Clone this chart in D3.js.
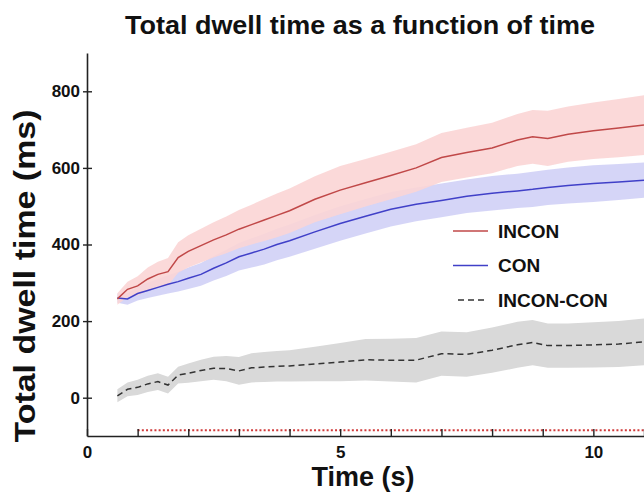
<!DOCTYPE html>
<html>
<head>
<meta charset="utf-8">
<script src="https://cdn.jsdelivr.net/npm/d3@7"></script>
<style>
  body { margin: 0; background: #fff; }
  text { font-family: "Liberation Sans", Arial, Helvetica, sans-serif; font-weight: bold; fill: #111; }
</style>
</head>
<body>
<div id="chart"></div>
<script>
    // time points (s)
    var timeS = [0.6, 0.8, 1.0, 1.2, 1.4, 1.6, 1.8, 2.0, 2.25, 2.5, 2.75, 3.0, 3.25, 3.5, 3.75, 4.0,
                 4.5, 5.0, 5.5, 6.0, 6.5, 7.0, 7.5, 8.0, 8.5, 8.8, 9.1, 9.5, 10.0, 10.5, 11.0];

    // mean total dwell time (ms) and half width of the shaded band
    var inconMean = [258, 283, 292, 310, 322, 329, 366, 382, 397, 412, 425, 440, 452, 464, 476, 488,
                     518, 542, 561, 580, 600, 627, 640, 652, 673, 681, 677, 688, 697, 704, 712];
    var inconErr  = [15, 20, 25, 30, 33, 36, 40, 42, 44, 46, 48, 50, 52, 55, 57, 58,
                     60, 63, 62, 62, 62, 64, 65, 66, 68, 70, 72, 72, 74, 76, 78];

    var conMean = [260, 258, 272, 280, 288, 296, 303, 312, 322, 338, 352, 368, 378, 388, 400, 410,
                   433, 455, 474, 492, 505, 515, 526, 534, 540, 544, 549, 554, 559, 563, 568];
    var conErr  = [12, 15, 18, 20, 22, 24, 26, 28, 30, 32, 34, 36, 38, 40, 41, 42,
                   44, 45, 45, 45, 44, 44, 44, 45, 45, 46, 46, 47, 48, 47, 46];

    var diffMean = [5, 22, 27, 36, 42, 33, 59, 64, 71, 77, 76, 70, 78, 80, 82, 83,
                    88, 93, 99, 98, 98, 115, 113, 124, 138, 144, 136, 136, 138, 140, 146];
    var diffErr  = [17, 18, 20, 21, 22, 22, 22, 25, 28, 30, 33, 36, 38, 39, 40, 41,
                    45, 50, 54, 56, 58, 58, 58, 59, 60, 59, 58, 58, 59, 60, 61];

    // significance bar (dotted) from this time onwards
    var sigStart = 1.0, sigEnd = 11.0, sigLevel = -85;

    var xTicks = [0, 1, 2, 3, 4, 5, 6, 7, 8, 9, 10, 11];
    var xLabels = [0, 5, 10];
    var yTicks = [0, 200, 400, 600, 800];

    var legendNames = ["INCON", "CON", "INCON-CON"];

    // dimensions
    var margin = { top: 53, right: 0, bottom: 58, left: 87 },
        width = 644 - margin.left - margin.right,
        height = 494 - margin.top - margin.bottom;

    var svg = d3.select("#chart")
        .append("svg")
        .attr("width", 644)
        .attr("height", 494);

    var g = svg.append("g")
        .attr("transform", "translate(" + margin.left + "," + margin.top + ")");

    var x = d3.scaleLinear().domain([0, 11]).range([0, width]);
    var y = d3.scaleLinear().domain([-100, 900]).range([height, 0]);

    function band(mean, err) {
        return d3.area()
            .x(function(d, i) { return x(timeS[i]); })
            .y0(function(d, i) { return y(mean[i] - err[i]); })
            .y1(function(d, i) { return y(mean[i] + err[i]); })(mean);
    }
    var line = d3.line()
        .x(function(d, i) { return x(timeS[i]); })
        .y(function(d) { return y(d); });

    // shaded bands
    g.append("path").attr("d", band(diffMean, diffErr)).style("fill", "#d9d9d9");
    g.append("path").attr("d", band(conMean, conErr)).style("fill", "#d3d3f7").style("opacity", 0.95);
    g.append("path").attr("d", band(inconMean, inconErr)).style("fill", "#fbd5d5").style("opacity", 0.9);

    // mean lines
    g.append("path").attr("d", line(diffMean))
        .style("fill", "none").style("stroke", "#333").style("stroke-width", 1.5)
        .style("stroke-dasharray", "6,4");
    g.append("path").attr("d", line(conMean))
        .style("fill", "none").style("stroke", "#4040c8").style("stroke-width", 1.5);
    g.append("path").attr("d", line(inconMean))
        .style("fill", "none").style("stroke", "#c04848").style("stroke-width", 1.5);

    // dotted significance line
    g.append("line")
        .attr("x1", x(sigStart)).attr("x2", x(sigEnd))
        .attr("y1", y(sigLevel)).attr("y2", y(sigLevel))
        .style("stroke", "#d03a3a").style("stroke-width", 2)
        .style("stroke-dasharray", "2,2.2");

    // x axis
    var xAxis = g.append("g")
        .attr("transform", "translate(0," + height + ")")
        .call(d3.axisBottom(x).tickValues(xTicks).tickSizeInner(-7).tickSizeOuter(0)
            .tickFormat(function(d) { return xLabels.indexOf(d) >= 0 ? d : ""; }));
    xAxis.select(".domain").style("stroke", "#222").style("stroke-width", 1.6);
    xAxis.selectAll(".tick line").style("stroke", "#222").style("stroke-width", 1.4);
    xAxis.selectAll(".tick text").attr("y", 10).style("font-size", "17px")
        .style("font-family", "'Liberation Sans', Arial, sans-serif").style("font-weight", "bold").style("fill", "#111");

    // y axis
    var yAxis = g.append("g")
        .call(d3.axisLeft(y).tickValues(yTicks).tickSizeInner(4).tickSizeOuter(0));
    yAxis.select(".domain").style("stroke", "#222").style("stroke-width", 1.6);
    yAxis.selectAll(".tick line").attr("x2", 5).attr("x1", -4).style("stroke", "#222").style("stroke-width", 1.4);
    yAxis.selectAll(".tick text").attr("x", -7).style("font-size", "17px")
        .style("font-family", "'Liberation Sans', Arial, sans-serif").style("font-weight", "bold").style("fill", "#111");

    // title and axis labels
    svg.append("text")
        .attr("x", 360).attr("y", 34)
        .attr("text-anchor", "middle")
        .attr("textLength", 470).attr("lengthAdjust", "spacingAndGlyphs")
        .style("font-size", "25px")
        .text("Total dwell time as a function of time");

    svg.append("text")
        .attr("x", 363).attr("y", 486)
        .attr("text-anchor", "middle")
        .style("font-size", "27px")
        .text("Time (s)");

    svg.append("text")
        .attr("transform", "translate(35,276) rotate(-90)")
        .attr("text-anchor", "middle")
        .attr("textLength", 333).attr("lengthAdjust", "spacingAndGlyphs")
        .style("font-size", "30px")
        .text("Total dwell time (ms)");

    // legend
    var legendStyle = [
        { stroke: "#c04848", dash: null },
        { stroke: "#4040c8", dash: null },
        { stroke: "#333", dash: "6,4" }
    ];
    var legend = svg.append("g").attr("transform", "translate(453,231)");
    legendNames.forEach(function(name, i) {
        var row = legend.append("g").attr("transform", "translate(0," + (i * 34.5) + ")");
        row.append("line")
            .attr("x1", i == 2 ? 5 : 0).attr("x2", 35)
            .style("stroke", legendStyle[i].stroke).style("stroke-width", 1.6)
            .style("stroke-dasharray", legendStyle[i].dash);
        row.append("text")
            .attr("x", 45).attr("dy", "0.35em")
            .style("font-size", "19px")
            .text(name);
    });
</script>
</body>
</html>
